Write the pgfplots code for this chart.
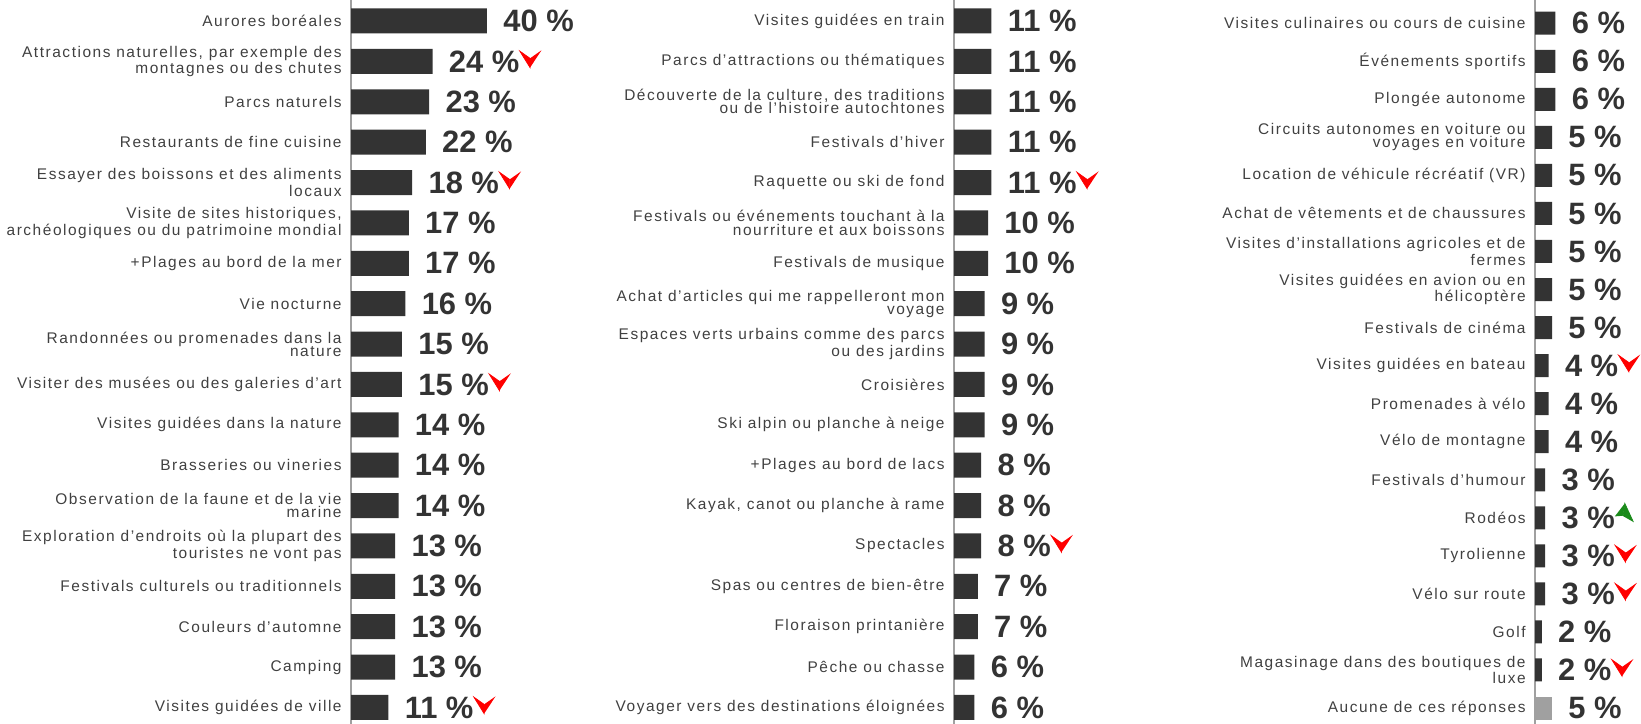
\documentclass[border=0pt]{standalone}
\usepackage{fontspec}
\setmainfont{Liberation Sans}
\newfontfamily\lblfont{Liberation Sans}[LetterSpace=10]
\newfontfamily\valfont{Liberation Sans}[BoldFont={Liberation Sans Bold}]
\usepackage{pgfplots}
\pgfplotsset{compat=1.18}
\usepackage{pgfplotstable}

\definecolor{bar}{HTML}{333333}
\definecolor{txt}{HTML}{404040}
\definecolor{axln}{HTML}{A0A0A0}
\definecolor{nonebar}{HTML}{A0A0A0}
\definecolor{upgreen}{HTML}{1A8A1A}

% red "down" and green "up" markers
\newcommand\dn{\smash{\raisebox{2.2bp}{\tikz[baseline=0pt,x=1bp,y=1bp]{%
  \draw[red,line width=0.35bp,line join=miter] (0,8.3)--(5.15,4.65)--(5.15,0)--cycle;
  \fill[red] (5.15,4.65)--(10.85,8.65)--(5.15,0)--cycle;}}}}
\newcommand\up{\smash{\raisebox{3.5bp}{\tikz[baseline=0pt,x=1bp,y=1bp]{%
  \fill[upgreen] (5,9)--(0,2.5)--(4.15,2.85)--cycle;
  \draw[upgreen,line width=0.35bp,line join=miter] (5,9)--(4.15,2.85)--(9.15,0)--cycle;}}}}

\pgfplotstableread{
r v f
0 40 0
1 24 1
2 23 0
3 22 0
4 18 1
5 17 0
6 17 0
7 16 0
8 15 0
9 15 1
10 14 0
11 14 0
12 14 0
13 13 0
14 13 0
15 13 0
16 13 0
17 11 1
}\tabA

\pgfplotstableread{
r v f
0 11 0
1 11 0
2 11 0
3 11 0
4 11 1
5 10 0
6 10 0
7 9 0
8 9 0
9 9 0
10 9 0
11 8 0
12 8 0
13 8 1
14 7 0
15 7 0
16 6 0
17 6 0
}\tabB

\pgfplotstableread{
r v f
0 6 0
1 6 0
2 6 0
3 5 0
4 5 0
5 5 0
6 5 0
7 5 0
8 5 0
9 4 1
10 4 0
11 4 0
12 3 0
13 3 2
14 3 1
15 3 1
16 2 0
17 2 1
}\tabC

\pgfplotstableread{
r v f
18 5 0
}\tabD

\pgfplotsset{
  panel/.style={
    anchor=south west, scale only axis, height=362bp,
    xmin=0, y dir=reverse,
    axis y line*=left, axis x line=none,
    y axis line style={draw=axln, line width=1bp},
    major tick length=0pt, xtick=\empty,
    yticklabel style={font=\lblfont\fontsize{7.75}{6.65}\selectfont,
      text=txt, align=right, inner sep=0pt, xshift=-4.5bp},
    clip=false,
  },
  bars/.style={
    xbar, draw=none, fill=bar,
    visualization depends on={\thisrow{f}\as\flag},
    nodes near coords={\pgfmathprintnumber[assume math mode=true]{\pgfplotspointmeta}\ \%%
      \ifdim\flag pt=1pt \dn\fi\ifdim\flag pt=2pt \up\fi},
    every node near coord/.append style={anchor=west, inner sep=0pt,
      xshift=8bp, font=\valfont\bfseries\fontsize{15.5}{15.5}\selectfont, text=bar},
  },
}

\begin{document}
\begin{tikzpicture}
\useasboundingbox (0,0) rectangle (820.5bp,362bp);

\begin{axis}[panel, at={(175.5bp,0)}, width=102bp, xmax=60,
  ymin=-0.52, ymax=17.41, ytick={0,...,17},
  yticklabels={{Aurores boréales},
    {Attractions naturelles, par exemple des\\montagnes ou des chutes},
    {Parcs naturels},
    {Restaurants de fine cuisine},
    {Essayer des boissons et des aliments\\locaux},
    {Visite de sites historiques,\\archéologiques ou du patrimoine mondial},
    {+Plages au bord de la mer},
    {Vie nocturne},
    {Randonnées ou promenades dans la\\nature},
    {Visiter des musées ou des galeries d’art},
    {Visites guidées dans la nature},
    {Brasseries ou vineries},
    {Observation de la faune et de la vie\\marine},
    {Exploration d’endroits où la plupart des\\touristes ne vont pas},
    {Festivals culturels ou traditionnels},
    {Couleurs d’automne},
    {Camping},
    {Visites guidées de ville}}]
\addplot[bars, bar width=12.5bp] table[x=v, y=r] {\tabA};
\end{axis}

\begin{axis}[panel, at={(477bp,0)}, width=68bp, xmax=40,
  ymin=-0.52, ymax=17.41, ytick={0,...,17},
  yticklabels={{Visites guidées en train},
    {Parcs d’attractions ou thématiques},
    {Découverte de la culture, des traditions\\ou de l’histoire autochtones},
    {Festivals d’hiver},
    {Raquette ou ski de fond},
    {Festivals ou événements touchant à la\\nourriture et aux boissons},
    {Festivals de musique},
    {Achat d’articles qui me rappelleront mon\\voyage},
    {Espaces verts urbains comme des parcs\\ou des jardins},
    {Croisières},
    {Ski alpin ou planche à neige},
    {+Plages au bord de lacs},
    {Kayak, canot ou planche à rame},
    {Spectacles},
    {Spas ou centres de bien-être},
    {Floraison printanière},
    {Pêche ou chasse},
    {Voyager vers des destinations éloignées}}]
\addplot[bars, bar width=12.5bp] table[x=v, y=r] {\tabB};
\end{axis}

\begin{axis}[panel, at={(767.5bp,0)}, width=42.5bp, xmax=25,
  ymin=-0.61, ymax=18.42, ytick={0,...,18},
  yticklabels={{Visites culinaires ou cours de cuisine},
    {Événements sportifs},
    {Plongée autonome},
    {Circuits autonomes en voiture ou\\voyages en voiture},
    {Location de véhicule récréatif (VR)},
    {Achat de vêtements et de chaussures},
    {Visites d’installations agricoles et de\\fermes},
    {Visites guidées en avion ou en\\hélicoptère},
    {Festivals de cinéma},
    {Visites guidées en bateau},
    {Promenades à vélo},
    {Vélo de montagne},
    {Festivals d’humour},
    {Rodéos},
    {Tyrolienne},
    {Vélo sur route},
    {Golf},
    {Magasinage dans des boutiques de\\luxe},
    {Aucune de ces réponses}}]
\addplot[bars, bar width=11.5bp] table[x=v, y=r] {\tabC};
\addplot[bars, bar width=11.5bp, fill=nonebar] table[x=v, y=r] {\tabD};
\end{axis}
\end{tikzpicture}
\end{document}
